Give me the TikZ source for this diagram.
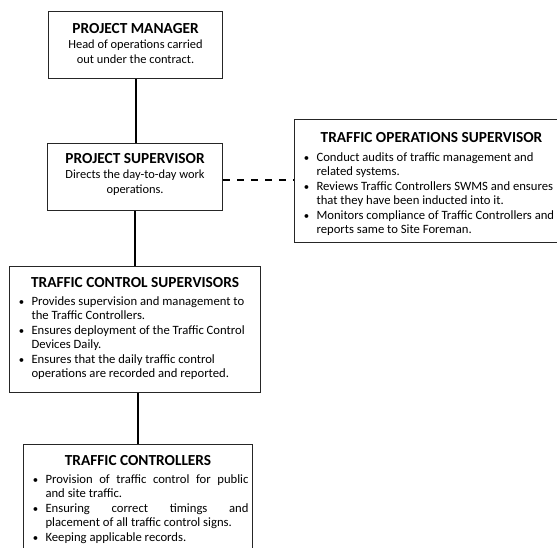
\documentclass[tikz,border=0pt]{standalone}
\usepackage{fontspec}
\setmainfont{Carlito}
\usetikzlibrary{calc}
\newcommand{\bx}[3]{\parbox[c][#2][t]{#1}{#3}}
\newcommand{\ttl}[2]{{\centering\fontsize{11.5}{12}\selectfont\bfseries\rule{0pt}{#1}#2\par}}
\newcommand{\bitem}[1]{\par\noindent\hangindent=16.5pt\hangafter=1\hspace*{7pt}\makebox[9.5pt][l]{\scalebox{0.85}{•}}#1\par}
\tikzset{
  box/.style={draw=black!85, line width=0.8pt, inner sep=0pt, anchor=north west},
  conn/.style={line width=1.5pt},
  dconn/.style={line width=1.5pt, dash pattern=on 5.5pt off 5pt},
}
\begin{document}
\begin{tikzpicture}[x=0.75pt,y=-0.75pt]
\useasboundingbox (0,0) rectangle (557,547);
\node[box] (pm) at (48,11) {\bx{130.5pt}{50.25pt}{%
  \ttl{16.2pt}{PROJECT MANAGER}
  {\centering\fontsize{9.3}{11.4}\selectfont Head of operations carried\\ out under the contract.\par}}};
\node[box] (ps) at (47,143) {\bx{131.25pt}{50.25pt}{%
  \ttl{14.8pt}{PROJECT SUPERVISOR}
  {\centering\fontsize{9.3}{11.4}\selectfont Directs the day-to-day work\\ operations.\par}}};
\node[box] (tos) at (294,119) {\bx{205.5pt}{92.5pt}{%
  \ttl{17.25pt}{TRAFFIC OPERATIONS SUPERVISOR}
  \vspace{3pt}
  {\raggedright\fontsize{9.5}{10.9}\selectfont
  \bitem{Conduct audits of traffic management and\newline related systems.}
  \bitem{Reviews Traffic Controllers SWMS and ensures\newline that they have been inducted into it.}
  \bitem{Monitors compliance of Traffic Controllers and\newline reports same to Site Foreman.}}}};
\node[box] (tcs) at (9,266) {\bx{188.25pt}{94.5pt}{%
  \ttl{15.75pt}{TRAFFIC CONTROL SUPERVISORS}
  \vspace{2.4pt}
  {\raggedright\fontsize{9.5}{10.9}\selectfont
  \bitem{Provides supervision and management to\newline the Traffic Controllers.}
  \bitem{Ensures deployment of the Traffic Control\newline Devices Daily.}
  \bitem{Ensures that the daily traffic control\newline operations are recorded and reported.}}}};
\node[box] (tc) at (23,444) {\bx{171.75pt}{85pt}{%
  \ttl{15.75pt}{TRAFFIC CONTROLLERS}
  \vspace{2.4pt}
  {\fontsize{9.5}{10.9}\selectfont\rightskip=3pt
  \bitem{Provision of traffic control for public\linebreak and site traffic.}
  \bitem{Ensuring correct timings and\linebreak placement of all traffic control signs.}
  \bitem{Keeping applicable records.}}}};
\draw[conn] (pm.south) -- (pm.south |- ps.north);
\draw[conn] (ps.south) -- (ps.south |- tcs.north);
\draw[conn] (tc.north) -- (tc.north |- tcs.south);
\coordinate (dl) at ($(ps.north east)!0.55!(ps.south east)$);
\draw[dconn] (dl) -- (dl -| tos.west);
\end{tikzpicture}
\end{document}
